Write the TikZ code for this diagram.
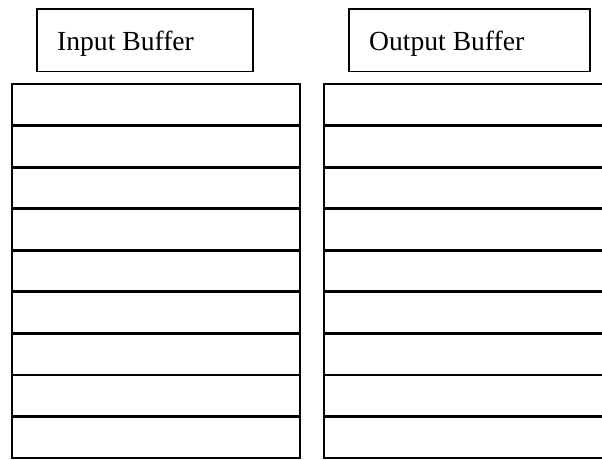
\documentclass[tikz,border=0pt]{standalone}
\usepackage{fontspec}
\setmainfont{Liberation Serif}
\begin{document}
\begin{tikzpicture}[x=1pt,y=-1pt,
  labelbox/.style={draw=black, line width=1.6pt, anchor=north west, inner sep=0pt},
  labeltext/.style={anchor=base west, inner sep=0pt, font=\fontsize{27.6}{33}\selectfont},
  outerline/.style={draw=black, line width=1.6pt},
  rowline/.style={draw=black, line width=2.8pt}]
\useasboundingbox (0,0) rectangle (602,459);
\clip (0,0) rectangle (602,459);
% title boxes
\node[labelbox, minimum width=216pt, minimum height=62.5pt] (inbuf) at (36,8) {};
\node[labeltext] (intext) at (57,50) {Input Buffer};
\node[labelbox, minimum width=241pt, minimum height=62.5pt] (outbuf) at (348,8) {};
\node[labeltext] (outtext) at (369,50) {Output Buffer};
% input buffer table
\coordinate (inTL) at (12,84);
\coordinate (inBR) at (300,458);
\foreach \i in {1,...,8} {
  \draw[rowline] (12,84+41.56*\i) -- (300,84+41.56*\i);
}
\draw[outerline] (inTL) rectangle (inBR);
% output buffer table (runs off the right edge)
\coordinate (outTL) at (324,84);
\coordinate (outBR) at (620,458);
\foreach \i in {1,...,8} {
  \draw[rowline] (324,84+41.56*\i) -- (620,84+41.56*\i);
}
\draw[outerline] (outTL) rectangle (outBR);
\end{tikzpicture}
\end{document}
